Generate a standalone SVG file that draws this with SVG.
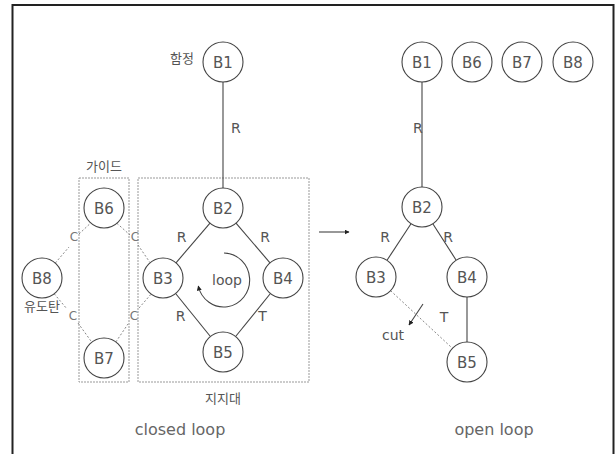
<svg xmlns="http://www.w3.org/2000/svg" width="616" height="454" viewBox="0 0 616 454">
<defs>
<marker id="ah" viewBox="0 0 10 10" refX="9" refY="5" markerWidth="5" markerHeight="5" orient="auto" markerUnits="userSpaceOnUse">
<path d="M0,0 L10,5 L0,10 z" fill="#222"/>
</marker>
</defs>
<style>
.n circle{fill:#fff;stroke:#444;stroke-width:1.1}
.n text{font-family:"DejaVu Sans","Liberation Sans",sans-serif;font-size:15px;fill:#555;text-anchor:middle}
.lbl{font-family:"DejaVu Sans","Liberation Sans",sans-serif;font-size:14px;fill:#555}
.kr{font-family:"Noto Sans CJK KR","Noto Sans",sans-serif;font-size:13px;fill:#555;text-anchor:middle}
.big{font-family:"DejaVu Sans","Liberation Sans",sans-serif;font-size:16px;fill:#666;text-anchor:middle}
.s{stroke:#444;stroke-width:1.1;fill:none}
.d{stroke:#888;stroke-width:1;fill:none;stroke-dasharray:2 2}
.box{fill:none;stroke:#999;stroke-width:1;stroke-dasharray:2 1}
.c{font-family:"DejaVu Sans","Liberation Sans",sans-serif;font-size:12px;fill:#777;text-anchor:middle}
</style>
<rect x="12.5" y="5" width="601" height="470" fill="none" stroke="#222" stroke-width="2"/>

<g id="boxes">
<rect class="box" x="79" y="178" width="50" height="204"/>
<rect class="box" x="138" y="178" width="171" height="204"/>
</g>

<g id="connectors">
<line class="s" x1="223" y1="82" x2="223" y2="188"/>
<line class="s" x1="210" y1="223.2" x2="176" y2="262.8"/>
<line class="s" x1="236" y1="223.2" x2="270" y2="262.8"/>
<line class="s" x1="175.6" y1="293.5" x2="210.4" y2="336.5"/>
<line class="s" x1="270.4" y1="293.5" x2="235.6" y2="336.5"/>
<line class="d" x1="55.3" y1="263" x2="69" y2="247"/>
<line class="d" x1="79" y1="234" x2="90.7" y2="223"/>
<line class="d" x1="116.9" y1="223.3" x2="130" y2="235"/>
<line class="d" x1="138" y1="245" x2="150.1" y2="262.7"/>
<line class="d" x1="54.2" y1="293.8" x2="67" y2="309"/>
<line class="d" x1="78" y1="323" x2="91.8" y2="342.2"/>
<line class="d" x1="115.9" y1="341.9" x2="128" y2="324"/>
<line class="d" x1="139" y1="308" x2="151.1" y2="294.1"/>
<path class="s" d="M224 253 A26 27 0 1 1 198.3 286" marker-end="url(#ah)"/>
<line class="s" x1="319" y1="232" x2="349" y2="232" marker-end="url(#ah)"/>
<line class="s" x1="422" y1="82" x2="422" y2="187"/>
<line class="s" x1="411" y1="223.7" x2="387" y2="260.3"/>
<line class="s" x1="432.8" y1="223.8" x2="456.2" y2="260.2"/>
<line class="d" x1="390.6" y1="290.7" x2="452.4" y2="348.3"/>
<line class="s" x1="467" y1="297" x2="467" y2="342"/>
<line class="s" x1="423" y1="304" x2="409" y2="325" marker-end="url(#ah)"/>
</g>

<g id="labels">
<text class="lbl" x="231" y="133">R</text>
<text class="lbl" x="181.5" y="242" text-anchor="middle">R</text>
<text class="lbl" x="265" y="242" text-anchor="middle">R</text>
<text class="lbl" x="180.5" y="321" text-anchor="middle">R</text>
<text class="lbl" x="262.5" y="321" text-anchor="middle">T</text>
<text class="c" x="74" y="241">C</text>
<text class="c" x="135" y="241">C</text>
<text class="c" x="73" y="320">C</text>
<text class="c" x="134" y="320">C</text>
<text class="lbl" x="227" y="285" text-anchor="middle" font-size="15">loop</text>
<text class="lbl" x="413" y="133">R</text>
<text class="lbl" x="385" y="242" text-anchor="middle">R</text>
<text class="lbl" x="448" y="242" text-anchor="middle">R</text>
<text class="lbl" x="444" y="322" text-anchor="middle">T</text>
<text class="lbl" x="393" y="340" text-anchor="middle">cut</text>
<text class="kr" x="182" y="63" font-size="14">함정</text>
<text class="kr" x="104" y="171" font-size="12">가이드</text>
<text class="kr" x="42" y="311">유도탄</text>
<text class="kr" x="223" y="403">지지대</text>
<text class="big" x="180" y="435">closed loop</text>
<text class="big" x="494" y="435">open loop</text>
</g>

<g id="L-B1" class="n"><circle cx="223" cy="62" r="20"/><text x="223" y="67.5">B1</text></g>
<g id="L-B2" class="n"><circle cx="223" cy="208" r="20"/><text x="223" y="213.5">B2</text></g>
<g id="L-B3" class="n"><circle cx="163" cy="278" r="20"/><text x="163" y="283.5">B3</text></g>
<g id="L-B4" class="n"><circle cx="283" cy="278" r="20"/><text x="283" y="283.5">B4</text></g>
<g id="L-B5" class="n"><circle cx="223" cy="352" r="20"/><text x="223" y="357.5">B5</text></g>
<g id="L-B6" class="n"><circle cx="104" cy="208" r="20"/><text x="104" y="213.5">B6</text></g>
<g id="L-B7" class="n"><circle cx="104" cy="358" r="20"/><text x="104" y="363.5">B7</text></g>
<g id="L-B8" class="n"><circle cx="42" cy="278" r="20"/><text x="42" y="283.5">B8</text></g>

<g id="R-B1" class="n"><circle cx="422" cy="62" r="20"/><text x="422" y="67.5">B1</text></g>
<g id="R-B6" class="n"><circle cx="472" cy="62" r="20"/><text x="472" y="67.5">B6</text></g>
<g id="R-B7" class="n"><circle cx="522" cy="62" r="20"/><text x="522" y="67.5">B7</text></g>
<g id="R-B8" class="n"><circle cx="573" cy="62" r="20"/><text x="573" y="67.5">B8</text></g>
<g id="R-B2" class="n"><circle cx="422" cy="207" r="20"/><text x="422" y="212.5">B2</text></g>
<g id="R-B3" class="n"><circle cx="376" cy="277" r="20"/><text x="376" y="282.5">B3</text></g>
<g id="R-B4" class="n"><circle cx="467" cy="277" r="20"/><text x="467" y="282.5">B4</text></g>
<g id="R-B5" class="n"><circle cx="467" cy="362" r="20"/><text x="467" y="367.5">B5</text></g>
</svg>
